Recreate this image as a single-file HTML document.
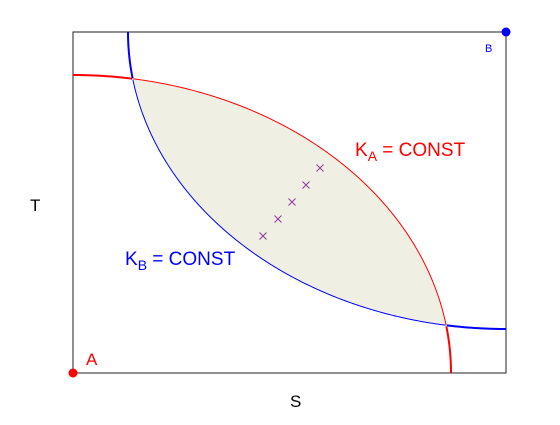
<!DOCTYPE html>
<html><head><meta charset="utf-8"><style>
body{margin:0;background:#fff;width:560px;height:420px;overflow:hidden}
text{font-family:"Liberation Sans",sans-serif}
</style></head><body>
<svg id="chart" width="560" height="420" viewBox="0 0 560 420" xmlns="http://www.w3.org/2000/svg">
<path id="lens" fill="#f0efe4" stroke="none"/>
<rect x="73" y="32" width="433" height="341" fill="none" stroke="#222" stroke-width="1"/>
<path id="redOuter" fill="none" stroke="#f00" stroke-width="2"/>
<path id="redInner" fill="none" stroke="#f00" stroke-width="1"/>
<path id="blueOuter" fill="none" stroke="#00f" stroke-width="2"/>
<path id="blueInner" fill="none" stroke="#00f" stroke-width="1"/>
<g id="marks"></g>
<circle cx="73" cy="373" r="4.5" fill="#f00"/>
<circle cx="506" cy="32" r="4.5" fill="#00f"/>
<text x="86" y="365" font-size="17" fill="#f00">A</text>
<text x="485" y="52" font-size="11" fill="#00f">B</text>
<text x="355" y="156" font-size="19" fill="#f00">K<tspan font-size="14" dy="5">A</tspan><tspan dy="-5"> = CONST</tspan></text>
<text x="125" y="265" font-size="19" fill="#00f">K<tspan font-size="14" dy="5">B</tspan><tspan dy="-5"> = CONST</tspan></text>
<text x="290" y="407" font-size="17" fill="#000">S</text>
<text x="30" y="211" font-size="17" fill="#000">T</text>
</svg>
<script>
const curveA = {cx:73, cy:373, rx:378, ry:298};
const curveB = {cx:506, cy:32, rx:378, ry:297};
const pointsX = [263, 278, 292, 306, 320];
const pointsY = [236, 219, 202, 185, 168];
function ptA(t){return [curveA.cx+curveA.rx*Math.sin(t), curveA.cy-curveA.ry*Math.cos(t)];}
function ptB(t){return [curveB.cx-curveB.rx*Math.sin(t), curveB.cy+curveB.ry*Math.cos(t)];}
function inB(p){const dx=(p[0]-curveB.cx)/curveB.rx, dy=(p[1]-curveB.cy)/curveB.ry;return dx*dx+dy*dy<=1;}
function inA(p){const dx=(p[0]-curveA.cx)/curveA.rx, dy=(p[1]-curveA.cy)/curveA.ry;return dx*dx+dy*dy<=1;}
function clip(p){return p[0]>=73&&p[0]<=506&&p[1]>=32&&p[1]<=373;}
function build(fn,test){const N=400;let outer1="",inner="",outer2="";let phase=0;
 for(let k=0;k<=N;k++){const t=k/N*Math.PI/2;const p=fn(t);if(!clip(p))continue;
  const s=p[0].toFixed(2)+","+p[1].toFixed(2);const inside=test(p);
  if(phase===0&&inside)phase=1; if(phase===1&&!inside)phase=2;
  if(phase===0)outer1+=(outer1?"L":"M")+s; else if(phase===1)inner+=(inner?"L":"M")+s; else outer2+=(outer2?"L":"M")+s;}
 return {outer:outer1+outer2.replace(/^L/,"M"),inner:inner};}
const a=build(ptA,inB), b=build(ptB,inA);
document.getElementById('redOuter').setAttribute('d',a.outer);
document.getElementById('redInner').setAttribute('d',a.inner);
document.getElementById('blueOuter').setAttribute('d',b.outer);
document.getElementById('blueInner').setAttribute('d',b.inner);
document.getElementById('lens').setAttribute('d',a.inner+b.inner.replace(/^M/,"L")+"Z");
const g=document.getElementById('marks');
for(let i=0;i<pointsX.length;i++){const x=pointsX[i],y=pointsY[i];
 const el=document.createElementNS("http://www.w3.org/2000/svg","path");
 
 
 el.setAttribute('d',`M${x-3.5},${y-3.5}L${x+3.5},${y+3.5}M${x-3.5},${y+3.5}L${x+3.5},${y-3.5}`);
 el.setAttribute('stroke','#8a3a9a');el.setAttribute('stroke-width','1');
 g.appendChild(el);}
</script>
</body></html>
